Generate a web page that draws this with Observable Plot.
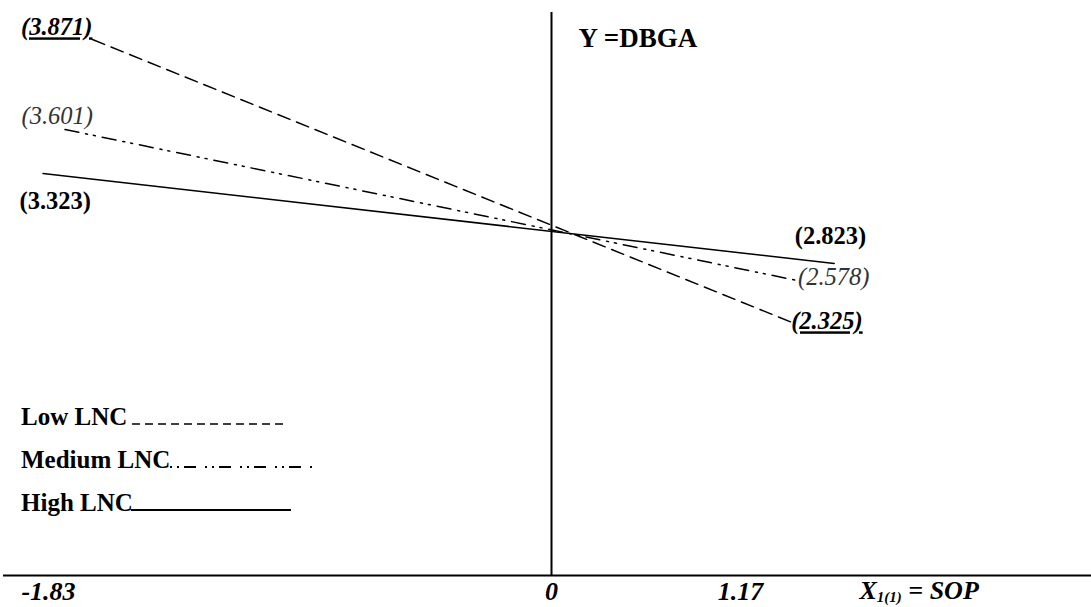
<!DOCTYPE html>
<html><head><meta charset="utf-8">
<script src="https://cdn.jsdelivr.net/npm/d3@7"></script>
<script src="https://cdn.jsdelivr.net/npm/@observablehq/plot@0.6"></script>
<style>
html,body{margin:0;padding:0;background:#fff;}
#chart svg{display:block;}
</style></head><body><div id="chart"></div>
<script>
// ---- data ----
const series = ["Low LNC", "Medium LNC", "High LNC"];
const yAtLowSOP = [3.871, 3.601, 3.323];   // Y (DBGA) at the left end of each line
const yAtHighSOP = [2.325, 2.578, 2.823];  // Y (DBGA) at the right end of each line
const lineStartSOP = [-1.67, -1.77, -1.85]; // where each drawn line starts (SOP units, as drawn)
const lineEndSOP = [1.49, 1.52, 1.75];      // where each drawn line ends (SOP units, as drawn)
const sopTicks = [-1.83, 0, 1.17];
const sopTickLabels = ["-1.83", "0", "1.17"];
const yTitle = "Y =DBGA";
const xTitleMain = "X", xTitleSub = "1(1)", xTitleRest = " = SOP";

// ---- build tables ----
const points = series.flatMap((s, i) => [
  {series: s, x: lineStartSOP[i], y: yAtLowSOP[i], label: `(${yAtLowSOP[i].toFixed(3)})`},
  {series: s, x: lineEndSOP[i], y: yAtHighSOP[i], label: `(${yAtHighSOP[i].toFixed(3)})`}
]);

// ---- styles ----
const FONT = "Liberation Serif, Times New Roman, serif";
const sty = {
  "Low LNC":    {dash: "13,7", weight: "bold", fstyle: "italic", fill: "#000", ul: true,
                 left: {a: "end", dx: 0, dy: -12}, right: {a: "start", dx: -1, dy: -1},
                 leg: {dash: "8,5", x1: 132, x2: 283, w: 1.6}},
  "Medium LNC": {dash: "14,7,2,6,2,7", weight: "normal", fstyle: "italic", fill: "#333", ul: false,
                 left: {a: "end", dx: 28, dy: -13}, right: {a: "start", dx: 1, dy: -3},
                 leg: {dash: "2,5,2,5,12,9", x1: 170, x2: 313, w: 1.8}},
  "High LNC":   {dash: null, weight: "bold", fstyle: "normal", fill: "#000", ul: false,
                 left: {a: "end", dx: 48, dy: 28}, right: {a: "end", dx: 32, dy: -27},
                 leg: {dash: null, x1: 131, x2: 291, w: 2}}
};

const yDomain = [0, ...[...yAtLowSOP, ...yAtHighSOP].sort((a, b) => a - b)];

const marks = [
  Plot.ruleX([0], {stroke: "#000", strokeWidth: 2}),
  Plot.ruleY([0], {stroke: "#000", strokeWidth: 2})
];
series.forEach((s, i) => {
  const st = sty[s];
  const pts = points.filter(d => d.series === s);
  marks.push(Plot.line(pts, {x: "x", y: "y", stroke: "#000", strokeWidth: 1.5,
    strokeDasharray: st.dash || undefined}));
  const common = {x: "x", y: "y", text: "label", fontFamily: FONT, fontSize: 24.5,
    fontWeight: st.weight, fontStyle: st.fstyle, fill: st.fill};
  marks.push(Plot.text([pts[0]], {...common, textAnchor: st.left.a, dx: st.left.dx, dy: st.left.dy}));
  marks.push(Plot.text([pts[1]], {...common, textAnchor: st.right.a, dx: st.right.dx, dy: st.right.dy}));
});
marks.push(Plot.text(sopTicks, {x: d => d, text: (d, i) => sopTickLabels[i], frameAnchor: "bottom",
  dy: 24, fontFamily: FONT, fontSize: 26, fontWeight: "bold", fontStyle: "italic", fill: "#000"}));
marks.push(Plot.text([yTitle], {frameAnchor: "top-left", dx: 575, dy: 15, textAnchor: "start",
  lineAnchor: "top", fontFamily: FONT, fontSize: 27, fontWeight: "bold", fill: "#000"}));
marks.push(Plot.text([xTitleMain], {frameAnchor: "bottom-left", dx: 856, dy: 23, textAnchor: "start",
  fontFamily: FONT, fontSize: 26, fontWeight: "bold", fontStyle: "italic", fill: "#000"}));

const chart = Plot.plot({
  width: 1091, height: 607,
  marginTop: 12, marginBottom: 32, marginLeft: 3, marginRight: 0,
  style: {background: "#fff", fontFamily: FONT},
  x: {type: "linear", domain: sopTicks, range: [48, 551, 740], axis: null},
  y: {type: "linear", domain: yDomain, range: [575, 322, 280, 263, 173, 129, 39], axis: null},
  marks
});
document.getElementById("chart").append(chart);

const svg = d3.select(chart.tagName.toLowerCase() === "svg" ? chart : chart.querySelector("svg"));

// underline the Low LNC value labels
const lowIdx = series.indexOf("Low LNC");
const ulTexts = [`(${yAtLowSOP[lowIdx].toFixed(3)})`, `(${yAtHighSOP[lowIdx].toFixed(3)})`];
svg.selectAll("text").filter(function() { return ulTexts.includes(this.textContent); })
  .style("text-decoration", "underline");

// x title with subscript
const xt = svg.selectAll("text").filter(function() { return this.textContent === xTitleMain; });
xt.text("");
xt.append("tspan").text(xTitleMain);
xt.append("tspan").attr("font-size", 15).attr("dy", 3).text(xTitleSub);
xt.append("tspan").attr("dy", -3).text(xTitleRest);

// legend
const legY = [424, 467, 510];
const leg = svg.append("g").attr("aria-label", "legend").attr("text-anchor", "start");
series.forEach((s, i) => {
  const st = sty[s];
  leg.append("text").attr("x", 21).attr("y", legY[i] + 1).attr("text-anchor", "start")
    .attr("font-family", FONT).attr("font-size", 25).attr("font-weight", "bold").attr("fill", "#000")
    .text(s);
  leg.append("line").attr("x1", st.leg.x1).attr("x2", st.leg.x2)
    .attr("y1", legY[i]).attr("y2", legY[i]).attr("stroke", "#000").attr("stroke-width", st.leg.w)
    .attr("stroke-dasharray", st.leg.dash);
});
</script></body></html>
